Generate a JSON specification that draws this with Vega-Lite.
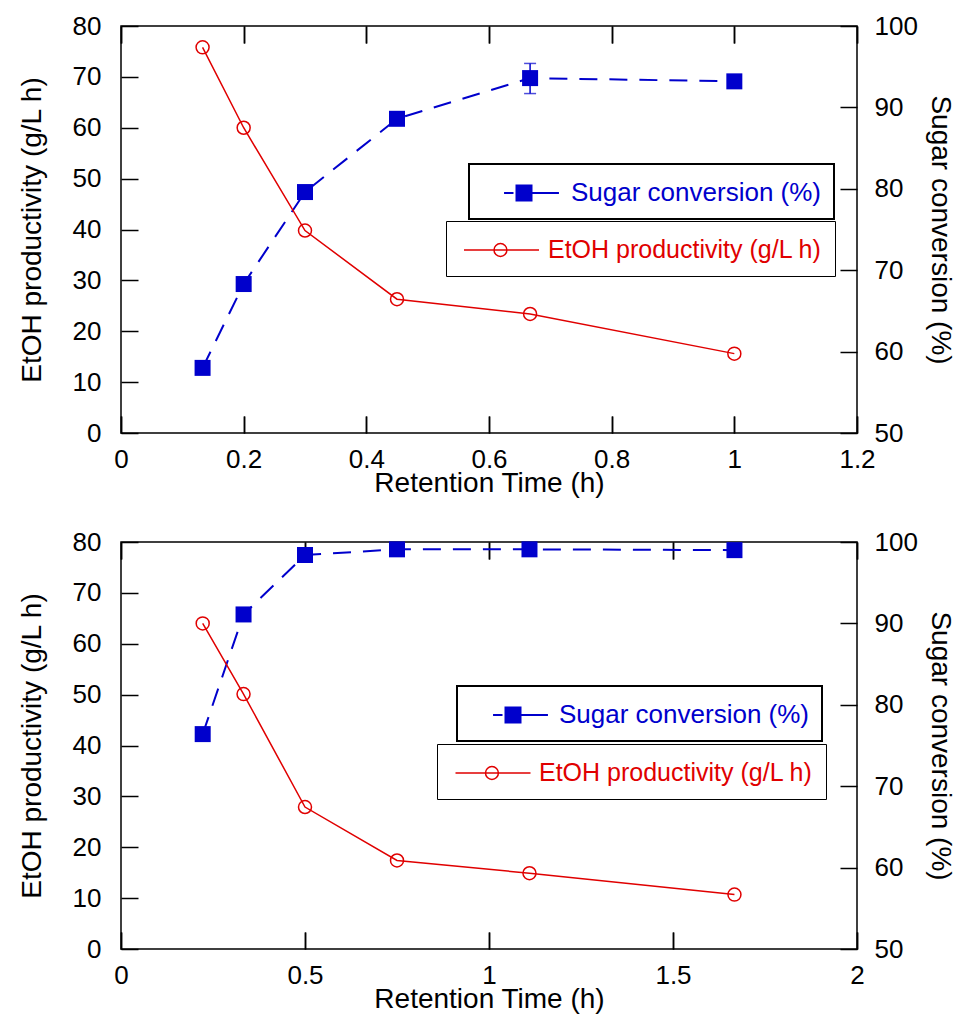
{
  "$schema": "https://vega.github.io/schema/vega-lite/v6.json",
  "padding": {"left": 17, "top": 12, "right": 0, "bottom": 0},
  "background": "white",
  "datasets": {
    "top": [
      {"t": 0.133, "etoh": 75.8, "sugar": 58.0},
      {"t": 0.2, "etoh": 60.0, "sugar": 68.3},
      {"t": 0.3, "etoh": 39.8, "sugar": 79.6},
      {"t": 0.45, "etoh": 26.3, "sugar": 88.6},
      {"t": 0.667, "etoh": 23.4, "sugar": 93.6},
      {"t": 1.0, "etoh": 15.6, "sugar": 93.2}
    ],
    "bottom": [
      {"t": 0.222, "etoh": 64.0, "sugar": 76.4},
      {"t": 0.333, "etoh": 50.1, "sugar": 91.1},
      {"t": 0.5, "etoh": 27.9, "sugar": 98.4},
      {"t": 0.75, "etoh": 17.4, "sugar": 99.1},
      {"t": 1.11, "etoh": 14.9, "sugar": 99.1},
      {"t": 1.667, "etoh": 10.7, "sugar": 99.0}
    ],
    "topErr": [
      {"t": 0.667, "lo": 91.7, "hi": 95.4}
    ]
  },
  "vconcat": [
    {
      "width": 736,
      "height": 407,
      "data": {"name": "top"},
      "layer": [
        {
          "mark": {"type": "line", "color": "#0000cc", "strokeWidth": 2, "strokeDash": [18, 12]},
          "encoding": {
            "x": {"field": "t", "type": "quantitative", "scale": {"domain": [0, 1.2], "nice": false},
              "axis": {"orient": "bottom", "values": [0, 0.2, 0.4, 0.6, 0.8, 1, 1.2], "format": "~g", "title": "Retention Time (h)", "labelPadding": 13, "titlePadding": -3, "labelFlush": false, "labelOverlap": false, "grid": true, "gridDash": [17, 373, 17, 2000]}},
            "y": {"field": "sugar", "type": "quantitative", "scale": {"domain": [50, 100], "nice": false, "zero": false},
              "axis": {"orient": "right", "values": [50, 60, 70, 80, 90, 100], "format": "d", "title": "Sugar conversion (%)", "labelPadding": 17, "titlePadding": 8, "labelOverlap": false, "grid": true, "gridDash": [17, 2000]}}
          }
        },
        {
          "data": {"name": "topErr"},
          "mark": {"type": "errorbar", "ticks": true, "size": 12, "thickness": 1.5, "color": "#0000cc"},
          "encoding": {
            "x": {"field": "t", "type": "quantitative", "scale": {"domain": [0, 1.2], "nice": false}, "axis": null},
            "y": {"field": "lo", "type": "quantitative", "scale": {"domain": [50, 100], "nice": false, "zero": false}, "axis": null},
            "y2": {"field": "hi"}
          }
        },
        {
          "mark": {"type": "point", "shape": "square", "filled": true, "size": 256, "opacity": 1},
          "encoding": {
            "x": {"field": "t", "type": "quantitative", "scale": {"domain": [0, 1.2], "nice": false}, "axis": null},
            "y": {"field": "sugar", "type": "quantitative", "scale": {"domain": [50, 100], "nice": false, "zero": false}, "axis": null},
            "color": {"datum": "Sugar conversion (%)", "type": "nominal", "scale": {"range": ["#0000cc"]},
              "legend": {"orient": "none", "legendX": 348, "legendY": 138, "title": null, "padding": 13, "strokeColor": "black", "fillColor": "white",
                "symbolType": "M-1.83,0L-1.2,0M0,0L1.83,0M-1,-0.5L0,-0.5L0,0.5L-1,0.5Z", "symbolSize": 900, "symbolOffset": 33.5, "symbolStrokeWidth": 2, "symbolStrokeColor": "#0000cc", "symbolOpacity": 1,
                "labelOffset": 23.5, "labelFontSize": 26, "labelFont": "Liberation Sans", "labelColor": "#0000cc", "labelLimit": 0,
                "encode": {"legend": {"update": {"strokeWidth": {"value": 2}}}, "symbols": {"update": {"stroke": {"value": "#0000cc"}, "strokeWidth": {"value": 2}, "fill": {"value": "#0000cc"}}}}}}
          }
        },
        {
          "mark": {"type": "line", "color": "#e00000", "strokeWidth": 1.5},
          "encoding": {
            "x": {"field": "t", "type": "quantitative", "scale": {"domain": [0, 1.2], "nice": false},
              "axis": {"orient": "top", "values": [0, 0.2, 0.4, 0.6, 0.8, 1, 1.2], "labels": false, "title": null, "grid": true, "gridDash": [17, 373, 17, 2000]}},
            "y": {"field": "etoh", "type": "quantitative", "scale": {"domain": [0, 80], "nice": false},
              "axis": {"orient": "left", "values": [0, 10, 20, 30, 40, 50, 60, 70, 80], "format": "d", "title": "EtOH productivity (g/L h)", "labelPadding": 20, "titlePadding": 26, "labelOverlap": false, "grid": true, "gridDash": [17, 2000]}}
          }
        },
        {
          "mark": {"type": "point", "shape": "circle", "filled": false, "size": 169, "strokeWidth": 1.5, "opacity": 1},
          "encoding": {
            "x": {"field": "t", "type": "quantitative", "scale": {"domain": [0, 1.2], "nice": false}, "axis": null},
            "y": {"field": "etoh", "type": "quantitative", "scale": {"domain": [0, 80], "nice": false}, "axis": null},
            "color": {"datum": "EtOH productivity (g/L h)", "type": "nominal", "scale": {"range": ["#e00000"]},
              "legend": {"orient": "none", "legendX": 325, "legendY": 195, "title": null, "padding": 13, "strokeColor": "black", "fillColor": "white",
                "symbolType": "M-2.5,0L2.5,0M-0.5,0A0.43,0.43,0,1,1,0.36,0A0.43,0.43,0,1,1,-0.5,0Z", "symbolSize": 900, "symbolOffset": 26.5, "symbolStrokeWidth": 1.5, "symbolStrokeColor": "#e00000", "symbolOpacity": 1,
                "labelOffset": 30.5, "labelFontSize": 25, "labelFont": "Liberation Sans", "labelColor": "#e00000", "labelLimit": 0,
                "encode": {"legend": {"update": {"strokeWidth": {"value": 2}}}, "symbols": {"update": {"stroke": {"value": "#e00000"}, "strokeWidth": {"value": 1.5}, "fill": {"value": "transparent"}}}}}}
          }
        }
      ],
      "resolve": {"scale": {"y": "independent", "color": "independent"}, "axis": {"x": "independent", "y": "independent"}}
    },
    {
      "width": 736,
      "height": 407,
      "data": {"name": "bottom"},
      "layer": [
        {
          "mark": {"type": "line", "color": "#0000cc", "strokeWidth": 2, "strokeDash": [18, 12]},
          "encoding": {
            "x": {"field": "t", "type": "quantitative", "scale": {"domain": [0, 2], "nice": false},
              "axis": {"orient": "bottom", "values": [0, 0.5, 1, 1.5, 2], "format": "~g", "title": "Retention Time (h)", "labelPadding": 13, "titlePadding": -3, "labelFlush": false, "labelOverlap": false, "grid": true, "gridDash": [17, 373, 17, 2000]}},
            "y": {"field": "sugar", "type": "quantitative", "scale": {"domain": [50, 100], "nice": false, "zero": false},
              "axis": {"orient": "right", "values": [50, 60, 70, 80, 90, 100], "format": "d", "title": "Sugar conversion (%)", "labelPadding": 17, "titlePadding": 8, "labelOverlap": false, "grid": true, "gridDash": [17, 2000]}}
          }
        },
        {
          "mark": {"type": "point", "shape": "square", "filled": true, "size": 256, "opacity": 1},
          "encoding": {
            "x": {"field": "t", "type": "quantitative", "scale": {"domain": [0, 2], "nice": false}, "axis": null},
            "y": {"field": "sugar", "type": "quantitative", "scale": {"domain": [50, 100], "nice": false, "zero": false}, "axis": null},
            "color": {"datum": "Sugar conversion (%)", "type": "nominal", "scale": {"range": ["#0000cc"]},
              "legend": {"orient": "none", "legendX": 336, "legendY": 144, "title": null, "padding": 13, "strokeColor": "black", "fillColor": "white",
                "symbolType": "M-1.83,0L-1.2,0M0,0L1.83,0M-1,-0.5L0,-0.5L0,0.5L-1,0.5Z", "symbolSize": 900, "symbolOffset": 34.5, "symbolStrokeWidth": 2, "symbolStrokeColor": "#0000cc", "symbolOpacity": 1,
                "labelOffset": 22.5, "labelFontSize": 26, "labelFont": "Liberation Sans", "labelColor": "#0000cc", "labelLimit": 0,
                "encode": {"legend": {"update": {"strokeWidth": {"value": 2}}}, "symbols": {"update": {"stroke": {"value": "#0000cc"}, "strokeWidth": {"value": 2}, "fill": {"value": "#0000cc"}}}}}}
          }
        },
        {
          "mark": {"type": "line", "color": "#e00000", "strokeWidth": 1.5},
          "encoding": {
            "x": {"field": "t", "type": "quantitative", "scale": {"domain": [0, 2], "nice": false},
              "axis": {"orient": "top", "values": [0, 0.5, 1, 1.5, 2], "labels": false, "title": null, "grid": true, "gridDash": [17, 373, 17, 2000]}},
            "y": {"field": "etoh", "type": "quantitative", "scale": {"domain": [0, 80], "nice": false},
              "axis": {"orient": "left", "values": [0, 10, 20, 30, 40, 50, 60, 70, 80], "format": "d", "title": "EtOH productivity (g/L h)", "labelPadding": 20, "titlePadding": 26, "labelOverlap": false, "grid": true, "gridDash": [17, 2000]}}
          }
        },
        {
          "mark": {"type": "point", "shape": "circle", "filled": false, "size": 169, "strokeWidth": 1.5, "opacity": 1},
          "encoding": {
            "x": {"field": "t", "type": "quantitative", "scale": {"domain": [0, 2], "nice": false}, "axis": null},
            "y": {"field": "etoh", "type": "quantitative", "scale": {"domain": [0, 80], "nice": false}, "axis": null},
            "color": {"datum": "EtOH productivity (g/L h)", "type": "nominal", "scale": {"range": ["#e00000"]},
              "legend": {"orient": "none", "legendX": 316, "legendY": 202, "title": null, "padding": 13, "strokeColor": "black", "fillColor": "white",
                "symbolType": "M-2.5,0L2.5,0M-0.5,0A0.43,0.43,0,1,1,0.36,0A0.43,0.43,0,1,1,-0.5,0Z", "symbolSize": 900, "symbolOffset": 27, "symbolStrokeWidth": 1.5, "symbolStrokeColor": "#e00000", "symbolOpacity": 1,
                "labelOffset": 30, "labelFontSize": 25, "labelFont": "Liberation Sans", "labelColor": "#e00000", "labelLimit": 0,
                "encode": {"legend": {"update": {"strokeWidth": {"value": 2}}}, "symbols": {"update": {"stroke": {"value": "#e00000"}, "strokeWidth": {"value": 1.5}, "fill": {"value": "transparent"}}}}}}
          }
        }
      ],
      "resolve": {"scale": {"y": "independent", "color": "independent"}, "axis": {"x": "independent", "y": "independent"}}
    }
  ],
  "spacing": 30,
  "config": {
    "font": "Liberation Sans",
    "view": {"stroke": "black", "strokeWidth": 1.5},
    "axis": {
      "domain": false,
      "ticks": false,
      "gridColor": "black",
      "gridOpacity": 1,
      "gridWidth": 1.5,
      "zindex": 1,
      "labelFont": "Liberation Sans",
      "labelFontSize": 26,
      "labelColor": "black",
      "titleFont": "Liberation Sans",
      "titleFontSize": 28,
      "titleFontWeight": "normal",
      "titleColor": "black"
    }
  }
}
